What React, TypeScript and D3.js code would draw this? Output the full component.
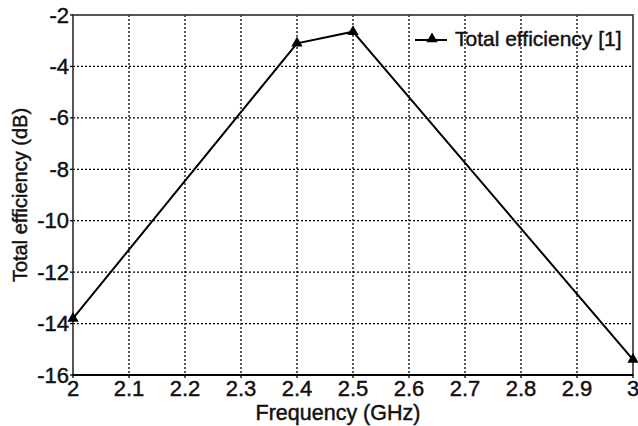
import React from "react";
import * as d3 from "d3";

const freqs = [2.0, 2.4, 2.5, 3.0];
const effs = [-13.8, -3.1, -2.65, -15.4];
const xTicks = [2, 2.1, 2.2, 2.3, 2.4, 2.5, 2.6, 2.7, 2.8, 2.9, 3];
const yTicks = [-16, -14, -12, -10, -8, -6, -4, -2];
const seriesName = "Total efficiency [1]";
const xTitle = "Frequency (GHz)";
const yTitle = "Total efficiency (dB)";

export default function App() {
  const W = 638, H = 426;
  const L = 73, R = 633, T = 15, B = 375;
  const x = d3.scaleLinear().domain([2, 3]).range([L, R]);
  const y = d3.scaleLinear().domain([-16, -2]).range([B, T]);
  const line = d3.line<number>().x((_, i) => x(freqs[i])).y((d) => y(d));
  const tri = d3.symbol().type(d3.symbolTriangle).size(55)();
  const font = "Liberation Sans, Arial, sans-serif";
  const tc = "#111";
  const textStyle = { stroke: tc, strokeWidth: 0.45 };
  return (
    <svg width={W} height={H} style={{ position: "absolute", left: 0, top: 0 }}>
      <rect width={W} height={H} fill="#fff" />
      {xTicks.slice(1, -1).map((t) => (
        <line key={"gx" + t} x1={x(t)} x2={x(t)} y1={T} y2={B} stroke="#000" strokeWidth={1.3} strokeDasharray="2,2" />
      ))}
      {yTicks.slice(1, -1).map((t) => (
        <line key={"gy" + t} x1={L} x2={R} y1={y(t)} y2={y(t)} stroke="#000" strokeWidth={1.3} strokeDasharray="2,2" />
      ))}
      <rect x={L} y={T} width={R - L} height={B - T} fill="none" stroke="#444" strokeWidth={1.8} />
      <line x1={L} x2={R} y1={B} y2={B} stroke="#000" strokeWidth={1.8} />
      {xTicks.map((t) => (
        <g key={"tx" + t}>
          <line x1={x(t)} x2={x(t)} y1={B} y2={B + 3} stroke="#000" strokeWidth={1.3} />
          <text x={x(t)} y={B + 21} textAnchor="middle" fontFamily={font} fontSize={22} fill={tc} style={textStyle}>{t}</text>
        </g>
      ))}
      {yTicks.map((t) => (
        <g key={"ty" + t}>
          <line x1={L - 3} x2={L} y1={y(t)} y2={y(t)} stroke="#000" strokeWidth={1.3} />
          <text x={L - 4} y={y(t) + 7.5} textAnchor="end" fontFamily={font} fontSize={22} fill={tc} style={textStyle}>{t}</text>
        </g>
      ))}
      <path d={line(effs) || ""} fill="none" stroke="#000" strokeWidth={2} />
      {effs.map((v, i) => (
        <path key={"m" + i} d={tri || ""} transform={`translate(${x(freqs[i])},${y(v)})`} fill="#000" />
      ))}
      <line x1={415} x2={447} y1={40} y2={40} stroke="#000" strokeWidth={2} />
      <path d={tri || ""} transform="translate(432,39)" fill="#000" />
      <text x={455} y={46} fontFamily={font} fontSize={21} fill={tc} style={textStyle}>{seriesName}</text>
      <text x={338} y={420} textAnchor="middle" fontFamily={font} fontSize={21.5} fill={tc} style={textStyle}>{xTitle}</text>
      <text transform={`translate(27,195) rotate(-90)`} textAnchor="middle" fontFamily={font} fontSize={20} fill={tc} style={textStyle}>{yTitle}</text>
    </svg>
  );
}
